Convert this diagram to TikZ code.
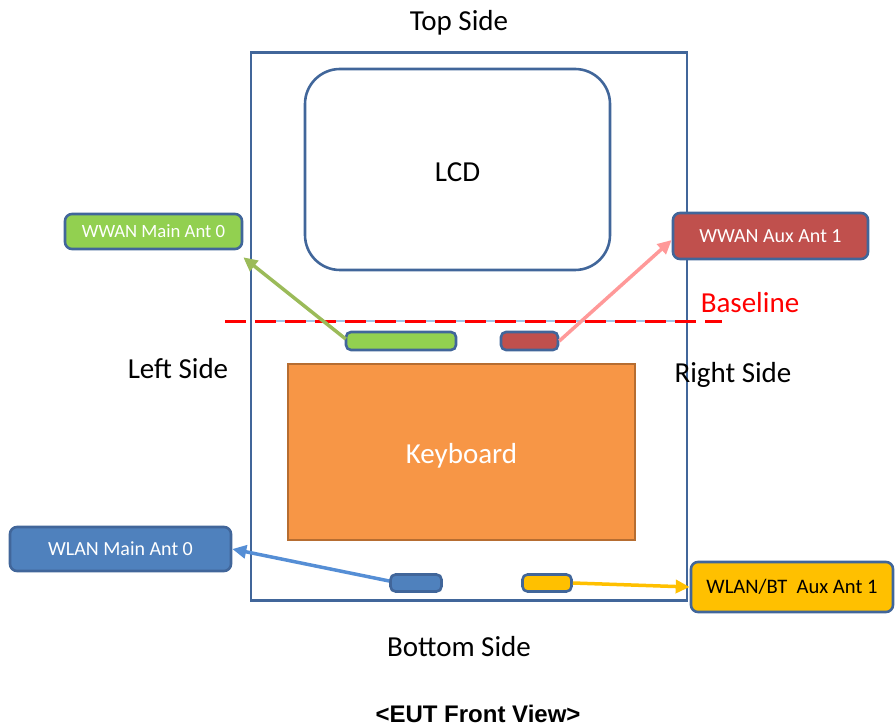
\documentclass[tikz,border=0pt]{standalone}
\usepackage{fontspec}
\setmainfont{Carlito}
\newfontfamily\capfont{Liberation Sans}
\usetikzlibrary{arrows.meta,calc}
\definecolor{frameblue}{HTML}{41669A}
\definecolor{accgreen}{HTML}{92D050}
\definecolor{accred}{HTML}{C0504D}
\definecolor{accblue}{HTML}{4F81BD}
\definecolor{accyellow}{HTML}{FFC000}
\definecolor{kbfill}{HTML}{F79646}
\definecolor{kbedge}{HTML}{B66D31}
\definecolor{arrgreen}{HTML}{9BBB59}
\definecolor{arrpink}{HTML}{FF9999}
\definecolor{arrblue}{HTML}{558ED5}
\definecolor{lightline}{HTML}{9DC3E6}
\tikzset{
  big/.style={font=\fontsize{29}{34}\selectfont},
  bar/.style={draw=frameblue, line width=2.6pt, rounded corners=5pt, inner sep=0pt},
  antbox/.style={draw=frameblue, line width=2.6pt, rounded corners=7pt, inner sep=0pt, text=white, font=\fontsize{20}{24}\selectfont},
  antarrow/.style={line width=3.5pt, -{Triangle[length=14pt,width=13pt]}},
}
\begin{document}
\begin{tikzpicture}[x=1pt,y=-1pt]
\useasboundingbox (0,0) rectangle (895,727);
% outer device frame
\node[draw=frameblue, line width=2.6pt, minimum width=436pt, minimum height=548pt, inner sep=0pt] (dev) at (469,326.5) {};
% LCD
\node[draw=frameblue, line width=2.6pt, rounded corners=35pt, minimum width=305pt, minimum height=201pt, inner sep=0pt] (lcd) at (457.5,169.5) {};
\node[big] (lcdtext) at ($(lcd.center)+(0,3)$) {LCD};
% Keyboard
\node[draw=kbedge, fill=kbfill, line width=1.8pt, minimum width=347pt, minimum height=176pt, inner sep=0pt] (kb) at (461.5,452) {};
\node[big, text=white] (kbtext) at ($(kb.center)+(0,4)$) {Keyboard};
% baseline
\coordinate (bl1) at (273,321);
\coordinate (bl2) at (690,321);
\coordinate (bd1) at (225,322);
\coordinate (bd2) at (722,322);
\draw[lightline, line width=1.8pt] (bl1) -- (bl2);
\draw[red, line width=3pt, dash pattern=on 21pt off 9pt] (bd1) -- (bd2);
\node[big, text=red] (baseline) at (750,303) {Baseline};
% antenna bars
\node[bar, fill=accgreen, minimum width=110pt, minimum height=18pt] (gbar) at (401,341) {};
\node[bar, fill=accred, minimum width=57pt, minimum height=18pt] (rbar) at (529.5,341) {};
\node[bar, fill=accblue, minimum width=51pt, minimum height=17pt] (bbar) at (416,583) {};
\node[bar, fill=accyellow, minimum width=49pt, minimum height=17pt] (ybar) at (547,583) {};
% antenna label boxes
\node[antbox, fill=accgreen, minimum width=177pt, minimum height=35pt, font=\fontsize{18.7}{22}\selectfont] (wm) at (153.5,231.5) {WWAN Main Ant 0};
\node[antbox, fill=accred, minimum width=195pt, minimum height=46pt] (wa) at (770.5,236) {WWAN Aux Ant 1};
\node[antbox, fill=accblue, minimum width=221pt, minimum height=44pt] (wl) at (120.5,549) {WLAN Main Ant 0};
\node[antbox, fill=accyellow, minimum width=202pt, minimum height=50pt, text=black, font=\fontsize{20.6}{24}\selectfont] (wb) at (792,587) {WLAN/BT\ \ Aux Ant 1};
% arrows
\draw[antarrow, arrgreen] ($(gbar.west)+(1,-2)$) -- ($(wm.south east)+(0,7)$);
\draw[antarrow, arrpink] (rbar.east) -- ($(wa.west)+(0,4)$);
\draw[antarrow, arrblue] ($(bbar.west)+(0,-2)$) -- (wl.east);
\draw[antarrow, accyellow] (ybar.east) -- (wb.west);
% side labels
\node[big] (top) at (459,23) {Top Side};
\node[big] (left) at (178,369) {Left Side};
\node[big] (right) at (733,375) {Right Side};
\node[big] (bottom) at (459,647) {Bottom Side};
\node[font=\capfont\bfseries\fontsize{24}{28}\selectfont] (cap) at (478,714) {<EUT Front View>};
\end{tikzpicture}
\end{document}
